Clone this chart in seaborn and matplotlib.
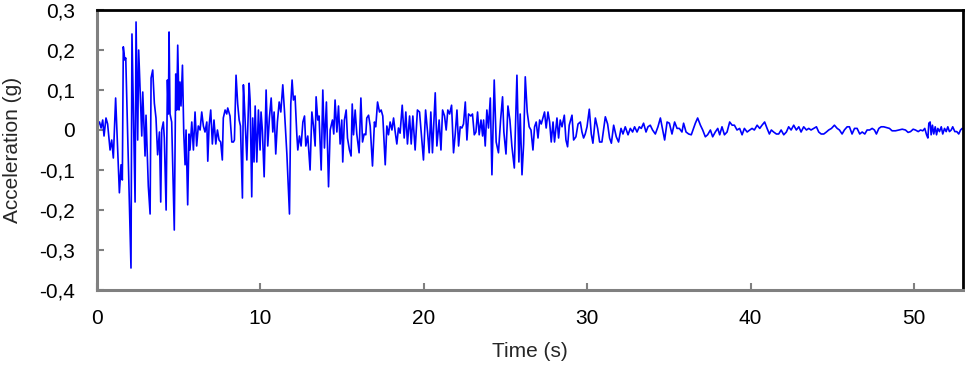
import matplotlib
matplotlib.use("Agg")
import matplotlib.pyplot as plt
import seaborn as sns
import pandas as pd
from matplotlib.ticker import FuncFormatter, FixedLocator

time_s = [
    0.00, 0.15, 0.25, 0.35, 0.43, 0.55, 0.65, 0.80, 0.90, 1.00, 1.14, 1.37, 1.47, 1.55, 1.61, 1.70, 1.76,
    2.08, 2.14, 2.33, 2.39, 2.49, 2.55, 2.74, 2.80, 2.94, 3.00, 3.14, 3.25, 3.31, 3.41, 3.51, 3.61, 3.71,
    3.82, 3.90, 3.96, 4.06, 4.12, 4.23, 4.31, 4.37, 4.41,
    4.47, 4.57, 4.73, 4.82, 4.88, 4.94, 5.02, 5.08, 5.14, 5.23, 5.31, 5.39, 5.45, 5.55, 5.63, 5.69, 5.80,
    5.90, 6.00, 6.10, 6.20, 6.31, 6.41, 6.51, 6.61, 6.72, 6.78, 6.86, 6.96, 7.06, 7.16, 7.27, 7.37, 7.47,
    7.57, 7.67, 7.73, 7.84, 7.94, 8.00, 8.14, 8.25, 8.35, 8.41, 8.51, 8.61, 8.70, 8.78, 8.90, 8.96,
    9.02, 9.17, 9.31, 9.37, 9.47, 9.53, 9.61, 9.68, 9.78, 9.88, 9.98, 10.04, 10.12, 10.23, 10.35, 10.45,
    10.55, 10.66, 10.76, 10.84, 10.94, 11.04, 11.15, 11.25, 11.37, 11.47, 11.62, 11.78, 11.86, 11.94,
    12.02, 12.12, 12.23, 12.29, 12.39, 12.49, 12.60, 12.70, 12.78, 12.90, 13.04, 13.15, 13.25, 13.35,
    13.41, 13.51, 13.59,
    13.72, 13.82, 13.92, 14.04, 14.17, 14.27, 14.41, 14.49, 14.57, 14.68, 14.78, 14.88, 14.98, 15.04,
    15.14, 15.25, 15.33, 15.45, 15.55, 15.62, 15.70, 15.80, 15.90, 16.04, 16.15, 16.25, 16.35, 16.45,
    16.51, 16.62, 16.72, 16.86, 16.98, 17.06, 17.17, 17.29, 17.39, 17.49, 17.64, 17.74, 17.84, 17.94,
    18.05, 18.15,
    18.25, 18.35, 18.45, 18.55, 18.68, 18.80, 18.90, 19.00, 19.13, 19.23, 19.33, 19.47, 19.61, 19.74,
    19.84, 19.98, 20.11, 20.23, 20.33, 20.43, 20.53, 20.70, 20.80, 20.94, 21.05, 21.15, 21.27, 21.37,
    21.47, 21.58, 21.70, 21.82, 21.92, 22.03, 22.13, 22.23, 22.33, 22.43, 22.54, 22.64, 22.74,
    22.88, 22.98, 23.09, 23.19, 23.29, 23.39, 23.50, 23.60, 23.66, 23.76, 23.86, 23.96, 24.07, 24.17,
    24.31, 24.43, 24.57, 24.70, 24.82, 24.90, 25.03, 25.15, 25.27, 25.39, 25.54, 25.70, 25.82, 25.90,
    26.01, 26.11, 26.21, 26.33, 26.45, 26.56, 26.68, 26.78, 26.88, 26.99, 27.09, 27.19, 27.29, 27.39,
    27.49, 27.60, 27.70, 27.80, 27.91, 28.00,
    28.15, 28.25, 28.35, 28.46, 28.60, 28.70, 28.80, 28.90, 29.07, 29.17, 29.31, 29.44, 29.58, 29.68,
    29.78, 29.88, 29.99, 30.13, 30.25, 30.35, 30.50, 30.64, 30.76, 30.90, 31.00, 31.11, 31.25, 31.37,
    31.48, 31.62, 31.78, 31.92, 32.07, 32.19, 32.33, 32.50, 32.64, 32.78, 32.90, 33.05, 33.19, 33.31,
    33.45, 33.60, 33.72, 33.86, 34.00, 34.17, 34.33, 34.48, 34.62, 34.74, 34.89, 35.03, 35.19, 35.35,
    35.50, 35.64, 35.80, 35.90, 36.05, 36.21, 36.37,
    36.62, 36.76, 36.93, 37.07, 37.23, 37.37, 37.54, 37.68, 37.84, 37.99, 38.11, 38.25, 38.40, 38.56,
    38.72, 38.87, 39.01, 39.17, 39.33, 39.48, 39.62, 39.79, 39.95, 40.09, 40.23, 40.40, 40.56, 40.70,
    40.86, 41.01, 41.15, 41.27, 41.41, 41.58, 41.72, 41.87, 42.03, 42.19, 42.33, 42.48, 42.64, 42.80,
    42.95, 43.09, 43.25, 43.42, 43.56, 43.70, 43.86, 44.03, 44.17, 44.32, 44.48, 44.64,
    44.78, 44.95, 45.13, 45.30, 45.44, 45.60, 45.74, 45.91, 46.05, 46.21, 46.36, 46.52, 46.68, 46.83,
    46.99, 47.13, 47.29, 47.44, 47.58, 47.70, 47.85, 47.99, 48.15, 48.32, 48.50, 48.66, 48.87, 49.07,
    49.28, 49.48, 49.64, 49.79, 49.95, 50.09, 50.26, 50.40, 50.54, 50.66, 50.77, 50.85, 50.91, 50.99,
    51.05, 51.13, 51.21, 51.30, 51.38, 51.46, 51.56, 51.67, 51.76, 51.87, 51.97, 52.07, 52.17, 52.28,
    52.37, 52.50, 52.62, 52.74, 52.85, 52.95,
]

accel_g = [
    0.008, 0.02, 0.005, 0.025, -0.015, 0.03, 0.015, -0.05, -0.025, -0.07, 0.08, -0.157, -0.087, -0.125, 0.208, 0.175, 0.18,
    -0.345, 0.24, -0.18, 0.27, -0.025, 0.2, -0.015, 0.095, -0.065, 0.037, -0.14, -0.21, 0.13, 0.15, 0.067, 0.03, -0.062,
    -0.005, -0.18, 0.0, 0.02, -0.02, -0.2, 0.125, 0.04, 0.245,
    0.04, 0.02, -0.25, 0.14, 0.05, 0.212, 0.05, 0.12, 0.06, 0.162, -0.008, -0.087, 0.0, -0.187, -0.01, -0.05, 0.02,
    -0.05, 0.045, -0.04, 0.01, 0.0, 0.045, 0.01, -0.005, 0.02, -0.078, 0.01, 0.05, -0.035, 0.025, -0.035, 0.0, -0.025,
    -0.03, -0.075, 0.03, 0.05, 0.04, 0.055, 0.035, -0.03, -0.03, -0.025, 0.137, 0.065, 0.025, 0.01, -0.17, 0.113,
    0.065, -0.075, 0.117, 0.075, -0.167, 0.03, -0.08, 0.06, -0.08, 0.05, -0.05, 0.045, 0.0, -0.117, 0.1, -0.04,
    0.03, 0.08, -0.005, 0.045, -0.06, 0.02, 0.07, 0.045, 0.113, 0.05, -0.06, -0.21, 0.065, 0.125,
    0.075, 0.085, -0.012, -0.05, -0.015, -0.04, 0.02, 0.035, -0.04, -0.015, -0.1, 0.045, 0.01, -0.04,
    0.083, 0.025, 0.035,
    -0.1, 0.1, -0.045, 0.07, -0.142, 0.0, 0.025, -0.01, 0.075, -0.005, 0.06, -0.035, 0.025, -0.08,
    0.025, 0.05, -0.02, -0.05, -0.065, 0.065, -0.012, 0.05, -0.01, -0.057, 0.08, -0.03, -0.01, -0.012,
    0.03, 0.037, 0.01, -0.09, 0.02, 0.008, 0.07, 0.045, 0.05, 0.035, -0.087, 0.01, -0.012, 0.02,
    0.0, 0.03,
    -0.005, -0.035, 0.005, -0.008, 0.062, -0.02, 0.045, -0.035, 0.035, -0.035, 0.035, -0.05, 0.05, 0.045,
    -0.005, -0.075, 0.05, -0.005, -0.057, 0.045, -0.057, 0.093, -0.04, 0.025, -0.05, 0.05, 0.035, 0.0,
    0.05, 0.04, 0.062, -0.057, -0.012, 0.05, -0.04, 0.008, 0.005, 0.015, 0.07, -0.025, 0.04,
    0.035, 0.04, -0.012, -0.005, 0.045, -0.012, 0.025, -0.015, 0.025, -0.04, 0.05, 0.005, 0.08, -0.112,
    0.125, -0.03, -0.057, 0.025, 0.083, -0.005, -0.06, 0.06, 0.025, -0.04, -0.095, 0.137, -0.08, 0.04,
    -0.112, -0.035, 0.133, 0.045, 0.008, 0.0, -0.05, 0.008, 0.02, -0.02, 0.025, 0.015, 0.03, 0.045,
    0.005, 0.045, 0.02, -0.03, 0.02, -0.03,
    0.03, -0.02, 0.025, 0.008, 0.037, -0.025, -0.042, 0.012, 0.037, -0.025, -0.017, 0.015, 0.02, -0.005,
    -0.02, -0.01, 0.008, 0.052, -0.01, -0.033, 0.03, 0.004, -0.03, -0.03, 0.0, 0.033, 0.015, -0.02,
    -0.033, 0.012, -0.017, -0.03, 0.004, -0.01, 0.008, -0.012, 0.004, -0.005, 0.008, -0.005, 0.008, 0.004,
    0.017, -0.005, 0.008, 0.012, 0.0, -0.01, 0.008, 0.03, 0.0, -0.025, 0.02, 0.017, -0.01, 0.02,
    0.004, 0.004, -0.005, 0.017, -0.005, -0.01, -0.012,
    0.017, 0.03, 0.012, 0.0, -0.017, -0.012, 0.0, -0.017, -0.005, 0.004, -0.012, 0.008, -0.012, -0.005,
    0.02, 0.012, 0.012, 0.0, 0.004, -0.012, 0.004, -0.005, 0.0, 0.004, 0.0, 0.012, 0.004, 0.012,
    0.02, 0.004, -0.01, 0.0, -0.005, -0.01, -0.01, 0.0, -0.012, -0.005, 0.008, 0.0, 0.012, 0.0,
    0.008, -0.005, 0.008, 0.0, 0.004, 0.0, 0.004, 0.008, -0.005, -0.01, -0.01, -0.005,
    0.0, 0.004, 0.012, 0.004, 0.0, -0.01, 0.0, 0.008, 0.008, -0.01, 0.004, 0.004, -0.01, -0.005,
    -0.01, 0.0, 0.0, 0.004, 0.0, -0.01, 0.004, 0.008, 0.008, 0.006, 0.004, -0.002, -0.002, 0.0,
    0.002, 0.0, -0.006, -0.004, 0.002, 0.0, -0.004, 0.0, -0.002, 0.004, -0.012, -0.02, 0.017, 0.02,
    -0.012, 0.012, -0.01, 0.008, -0.012, 0.004, -0.004, 0.008, -0.01, 0.004, -0.004, 0.008, -0.004, 0.0,
    0.008, -0.004, -0.004, -0.01, 0.0, 0.004,
]

x_ticks = [0, 10, 20, 30, 40, 50]
y_ticks = [-0.4, -0.3, -0.2, -0.1, 0.0, 0.1, 0.2, 0.3]

df = pd.DataFrame({"Time (s)": time_s, "Acceleration (g)": accel_g})

sns.set_style("white")
fam = ["Liberation Sans Narrow", "Liberation Sans", "DejaVu Sans"]
plt.rcParams["font.family"] = fam

fig = plt.figure(figsize=(9.65, 3.75), dpi=100)
ax = fig.add_axes([97 / 965, 1 - 290 / 375, (963 - 97) / 965, (290 - 10) / 375])

sns.lineplot(data=df, x="Time (s)", y="Acceleration (g)", sort=False, estimator=None,
             color="#0000ff", linewidth=1.2, ax=ax)

ax.set_xlim(0, 53)
ax.set_ylim(-0.4, 0.3)
ax.xaxis.set_major_locator(FixedLocator(x_ticks))
ax.yaxis.set_major_locator(FixedLocator(y_ticks))

def yfmt(v, pos):
    if abs(v) < 1e-9:
        return "0"
    return f"{v:.1f}".replace(".", ",")

ax.yaxis.set_major_formatter(FuncFormatter(yfmt))
ax.xaxis.set_major_formatter(FuncFormatter(lambda v, p: f"{int(round(v))}"))

for side in ["left", "bottom"]:
    ax.spines[side].set_color("#808080")
    ax.spines[side].set_linewidth(2.2)
for side in ["top", "right"]:
    ax.spines[side].set_color("black")
    ax.spines[side].set_linewidth(2.0)

ax.tick_params(axis="both", direction="in", length=5, width=1.5, color="#808080",
               labelsize=15, labelcolor="black", bottom=True, left=True, top=False, right=False)
ax.tick_params(axis="x", pad=14)
ax.tick_params(axis="y", pad=16)

ax.set_xlabel("Time (s)", fontsize=15, labelpad=10)
ax.set_ylabel("Acceleration (g)", fontsize=15, labelpad=12)

fig.savefig("out.png", dpi=100)
